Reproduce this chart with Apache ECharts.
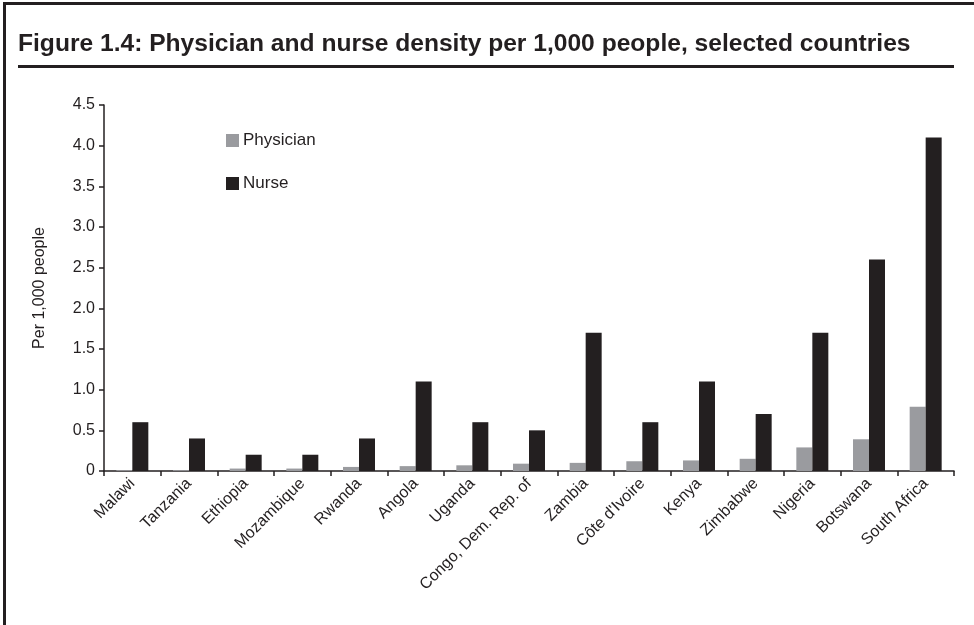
<!DOCTYPE html>
<html>
<head>
<meta charset="utf-8">
<script src="https://cdn.jsdelivr.net/npm/echarts@6/dist/echarts.min.js"></script>
<style>
  html, body { margin: 0; padding: 0; background: #fff; }
  #chart { width: 974px; height: 625px; }
</style>
</head>
<body>
<div id="chart"></div>
<script>
// Countries, ordered by physician density
const countries = ['Malawi', 'Tanzania', 'Ethiopia', 'Mozambique', 'Rwanda', 'Angola', 'Uganda',
  'Congo, Dem. Rep. of', 'Zambia', "Côte d'Ivoire", 'Kenya', 'Zimbabwe', 'Nigeria', 'Botswana', 'South Africa'];
// Density per 1,000 people
const physician = [0.01, 0.01, 0.03, 0.03, 0.05, 0.06, 0.07, 0.09, 0.1, 0.12, 0.13, 0.15, 0.29, 0.39, 0.79];
const nurse = [0.6, 0.4, 0.2, 0.2, 0.4, 1.1, 0.6, 0.5, 1.7, 0.6, 1.1, 0.7, 1.7, 2.6, 4.1];
const yTicks = { min: 0, max: 4.5, interval: 0.5 };

const ink = '#231f20';
const grey = '#9a9b9f';
const font = 'Liberation Sans, Arial, sans-serif';

const chart = echarts.init(document.getElementById('chart'), null, { renderer: 'canvas' });
chart.setOption({
  backgroundColor: '#fff',
  animation: false,
  textStyle: { fontFamily: font, color: ink },
  graphic: [
    // frame edges (top and left)
    { type: 'rect', shape: { x: 3, y: 2, width: 971, height: 3 }, style: { fill: ink } },
    { type: 'rect', shape: { x: 3, y: 2, width: 3, height: 623 }, style: { fill: ink } },
    // rule under the heading
    { type: 'rect', shape: { x: 18, y: 65, width: 936, height: 3 }, style: { fill: ink } },
    {
      type: 'text', left: 18, top: 32,
      style: {
        text: 'Figure 1.4: Physician and nurse density per 1,000 people, selected countries',
        font: 'bold 24.6px ' + font, fill: ink
      }
    }
  ],
  legend: {
    orient: 'vertical',
    left: 221, top: 127,
    itemWidth: 13, itemHeight: 13, itemGap: 26,
    icon: 'rect',
    textStyle: { fontSize: 17, color: ink, fontFamily: font, padding: [0, 0, 0, -1] },
    data: ['Physician', 'Nurse']
  },
  grid: { left: 104, right: 20, top: 105, bottom: 154, containLabel: false },
  xAxis: {
    type: 'category',
    data: countries,
    axisLine: { lineStyle: { color: ink, width: 1.5 } },
    axisTick: { show: true, length: 5, lineStyle: { color: ink, width: 1.5 } },
    axisLabel: { rotate: 45, fontSize: 16, color: ink, fontFamily: font, margin: 10, interval: 0 }
  },
  yAxis: {
    type: 'value',
    min: yTicks.min, max: yTicks.max, interval: yTicks.interval,
    name: 'Per 1,000 people',
    nameLocation: 'middle',
    nameGap: 56,
    nameTextStyle: { fontSize: 16, color: ink, fontFamily: font },
    axisLine: { show: true, lineStyle: { color: ink, width: 1.5 } },
    axisTick: { show: true, length: 5, lineStyle: { color: ink, width: 1.5 } },
    splitLine: { show: false },
    axisLabel: {
      fontSize: 16, color: ink, fontFamily: font, margin: 9,
      formatter: v => (v === 0 ? '0' : v.toFixed(1))
    }
  },
  series: [
    {
      name: 'Physician', type: 'bar', data: physician,
      barWidth: 16, barGap: '0%',
      itemStyle: { color: grey }
    },
    {
      name: 'Nurse', type: 'bar', data: nurse,
      barWidth: 16, barGap: '0%',
      itemStyle: { color: ink }
    }
  ]
});
</script>
</body>
</html>
